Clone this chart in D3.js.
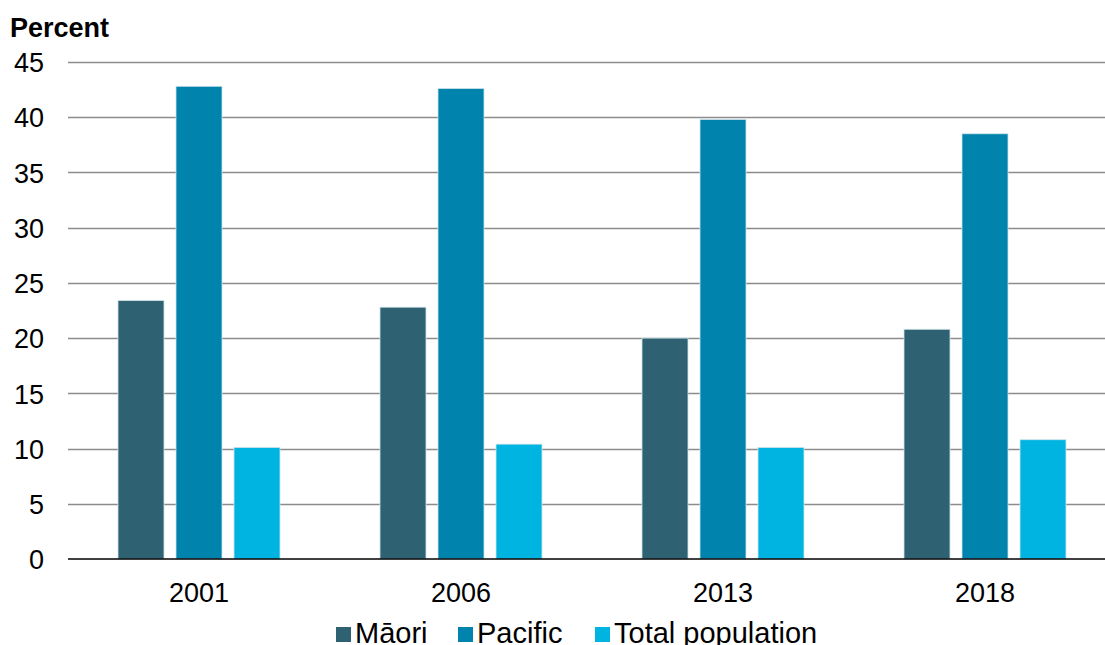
<!DOCTYPE html>
<html>
<head>
<meta charset="utf-8">
<script src="https://cdn.jsdelivr.net/npm/d3@7"></script>
<style>
body { margin: 0; background: #fff; }
text { font-family: "Liberation Sans", Arial, sans-serif; fill: #000; }
</style>
</head>
<body>
<svg id="chart" width="1105" height="645"></svg>
<script>
const years = ["2001", "2006", "2013", "2018"];
const seriesNames = ["Māori", "Pacific", "Total population"];
const maori = [23.4, 22.8, 20.0, 20.8];
const pacific = [42.8, 42.6, 39.8, 38.5];
const total = [10.1, 10.4, 10.1, 10.8];
const yTicks = [0, 5, 10, 15, 20, 25, 30, 35, 40, 45];
const colors = ["#2E6272", "#0083AC", "#00B4E1"];

const seriesValues = [maori, pacific, total];
const svg = d3.select("#chart");
const FS = 27;

const x0 = d3.scaleBand().domain(years).range([68, 1116]).paddingInner(0).paddingOuter(0);
const x1 = d3.scaleBand().domain(seriesNames).range([50, 212]).paddingInner(0.207).paddingOuter(0);
const y = d3.scaleLinear().domain([0, 45]).range([559, 62]);

// y tick labels
const yAxis = d3.axisLeft(y).tickValues(yTicks).tickSize(0).tickPadding(0).tickFormat(d3.format("d"));
const gy = svg.append("g").attr("transform", "translate(44,0)").call(yAxis);
gy.select(".domain").remove();
gy.selectAll("text").attr("font-size", FS).attr("dy", "0.36em").attr("fill", "#000");

// gridlines
svg.append("g").selectAll("line").data(yTicks.filter(d => d > 0)).join("line")
  .attr("x1", 68).attr("x2", 1105)
  .attr("y1", d => Math.round(y(d)) + 0.5).attr("y2", d => Math.round(y(d)) + 0.5)
  .attr("stroke", "#8c8c8c").attr("stroke-width", 1.5);

// bars
const groups = svg.append("g").selectAll("g").data(years).join("g")
  .attr("transform", d => `translate(${x0(d)},0)`);
groups.selectAll("rect").data((yr, i) => seriesNames.map((s, j) => ({ s, v: seriesValues[j][i], c: colors[j] })))
  .join("rect")
  .attr("x", d => x1(d.s))
  .attr("width", x1.bandwidth())
  .attr("y", d => y(d.v))
  .attr("height", d => y(0) - y(d.v))
  .attr("fill", d => d.c)
  .attr("stroke", "#cfe3ea").attr("stroke-width", 0.8);

// x axis
const xAxis = d3.axisBottom(x0).tickSize(0).tickPadding(24);
const gx = svg.append("g").attr("transform", `translate(0,${y(0)})`).call(xAxis);
gx.select(".domain").remove();
gx.selectAll("text").attr("font-size", FS).attr("fill", "#000");
svg.append("line").attr("x1", 68).attr("x2", 1105).attr("y1", y(0)).attr("y2", y(0))
  .attr("stroke", "#000").attr("stroke-width", 1.5);

// y title
svg.append("text").attr("x", 10).attr("y", 37).attr("font-size", FS).attr("font-weight", "bold").text("Percent");

// legend
const legendX = [336, 458, 595];
const lg = svg.append("g").selectAll("g").data(seriesNames).join("g")
  .attr("transform", (d, i) => `translate(${legendX[i]},627)`);
lg.append("rect").attr("width", 15).attr("height", 15).attr("fill", (d, i) => colors[i]);
lg.append("text").attr("x", 19).attr("y", 15.5).attr("font-size", 29).text(d => d);
</script>
</body>
</html>
